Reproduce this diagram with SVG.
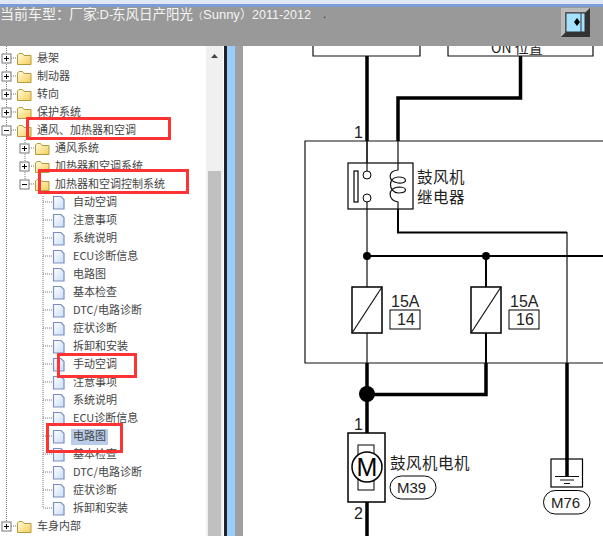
<svg xmlns="http://www.w3.org/2000/svg" width="603" height="536" viewBox="0 0 603 536">
<style>
text{font-family:"Noto Sans CJK SC","Liberation Sans",sans-serif}
.t{font-size:11px;fill:#444}
.d{font-size:15.500px;letter-spacing:.5px;fill:#222}
.a{font-family:"Liberation Sans",sans-serif;font-size:16px;fill:#222}
.c{font-family:"Liberation Sans",sans-serif;font-size:15px;fill:#222}
.w{fill:none;stroke:#111;stroke-width:1.2}
.m{fill:none;stroke:#000;stroke-width:2}
.h{fill:none;stroke:#000;stroke-width:3.5}
.r{fill:none;stroke:#f33;stroke-width:3}
.b{fill:#fff;stroke:#000;stroke-width:1.5}
.dot{fill:none;stroke:#777;stroke-width:1;stroke-dasharray:1 1}
.l{font-family:"Liberation Sans",sans-serif}
</style>
<defs>
<linearGradient id="fg" x1="0" y1="0" x2="1" y2="1"><stop offset="0" stop-color="#fffbe0"/><stop offset="1" stop-color="#f5cf55"/></linearGradient>
<linearGradient id="pg" x1="0" y1="0" x2="1" y2="1"><stop offset="0" stop-color="#ffffff"/><stop offset="1" stop-color="#c9dcf7"/></linearGradient>
<g id="folder"><path d="M0.500 3V12.500H14V3.500H7L5.500 1.500H2Z" fill="url(#fg)" stroke="#b59a3c"/></g>
<g id="page"><path d="M0.500 0.500H8L11 3.500V13H0.500Z" fill="url(#pg)" stroke="#7a8fc0" stroke-width="1.200"/></g>
<g id="plus"><rect x="0" y="0" width="9" height="9" fill="#fff" stroke="#777"/><path d="M2 4.500h5M4.500 2v5" stroke="#000"/></g>
<g id="minus"><rect x="0" y="0" width="9" height="9" fill="#fff" stroke="#777"/><path d="M2 4.500h5" stroke="#000"/></g>
</defs>
<rect width="603" height="536" fill="#fff"/>
<g id="tree">
<path class="dot" d="M6.500 46V526M25 140V184M43 196V508"/>
<path class="dot" d="M11 58h6M11 76h6M11 94h6M11 112h6M11 130h6M11 526h6M29 148h6M29 166h6M29 184h6"/>
<path class="dot" d="M43 202h10M43 220h10M43 238h10M43 256h10M43 274h10M43 292h10M43 310h10M43 328h10M43 346h10M43 364h10M43 382h10M43 400h10M43 418h10M43 436h10M43 454h10M43 472h10M43 490h10M43 508h10"/>
<use href="#plus" x="2" y="54"/><use href="#folder" x="17" y="52"/><text class="t" x="37" y="62">悬架</text>
<use href="#plus" x="2" y="72"/><use href="#folder" x="17" y="70"/><text class="t" x="37" y="80">制动器</text>
<use href="#plus" x="2" y="90"/><use href="#folder" x="17" y="88"/><text class="t" x="37" y="98">转向</text>
<use href="#plus" x="2" y="108"/><use href="#folder" x="17" y="106"/><text class="t" x="37" y="116">保护系统</text>
<use href="#minus" x="2" y="126"/><use href="#folder" x="17" y="124"/><text class="t" x="37" y="134">通风、加热器和空调</text>
<use href="#plus" x="20" y="144"/><use href="#folder" x="35" y="142"/><text class="t" x="55" y="152">通风系统</text>
<use href="#plus" x="20" y="162"/><use href="#folder" x="35" y="160"/><text class="t" x="55" y="170">加热器和空调系统</text>
<use href="#minus" x="20" y="180"/><use href="#folder" x="35" y="178"/><text class="t" x="55" y="188">加热器和空调控制系统</text>
<use href="#page" x="53" y="196"/><text class="t" x="73" y="206">自动空调</text>
<use href="#page" x="53" y="214"/><text class="t" x="73" y="224">注意事项</text>
<use href="#page" x="53" y="232"/><text class="t" x="73" y="242">系统说明</text>
<use href="#page" x="53" y="250"/><text class="t" x="73" y="260">ECU诊断信息</text>
<use href="#page" x="53" y="268"/><text class="t" x="73" y="278">电路图</text>
<use href="#page" x="53" y="286"/><text class="t" x="73" y="296">基本检查</text>
<use href="#page" x="53" y="304"/><text class="t" x="73" y="314">DTC/电路诊断</text>
<use href="#page" x="53" y="322"/><text class="t" x="73" y="332">症状诊断</text>
<use href="#page" x="53" y="340"/><text class="t" x="73" y="350">拆卸和安装</text>
<use href="#page" x="53" y="358"/><text class="t" x="73" y="368">手动空调</text>
<use href="#page" x="53" y="376"/><text class="t" x="73" y="386">注意事项</text>
<use href="#page" x="53" y="394"/><text class="t" x="73" y="404">系统说明</text>
<use href="#page" x="53" y="412"/><text class="t" x="73" y="422">ECU诊断信息</text>
<rect x="71" y="429" width="37" height="16" fill="#b9cdea"/>
<use href="#page" x="53" y="430"/><text class="t" x="73" y="440">电路图</text>
<use href="#page" x="53" y="448"/><text class="t" x="73" y="458">基本检查</text>
<use href="#page" x="53" y="466"/><text class="t" x="73" y="476">DTC/电路诊断</text>
<use href="#page" x="53" y="484"/><text class="t" x="73" y="494">症状诊断</text>
<use href="#page" x="53" y="502"/><text class="t" x="73" y="512">拆卸和安装</text>
<use href="#plus" x="2" y="522"/><use href="#folder" x="17" y="520"/><text class="t" x="37" y="530">车身内部</text>
</g>
<g id="panes">
<rect x="206" y="46" width="17" height="490" fill="#f0f0f0"/>
<rect x="208" y="171" width="13" height="365" fill="#c0c0c0"/>
<path d="M211 58h7l-3.500-4z" fill="#444"/>
<rect x="224" y="46" width="3" height="490" fill="#222"/>
<rect x="227" y="46" width="8" height="490" fill="#99ccff"/>
<rect x="235" y="46" width="8" height="490" fill="#a0a0a0"/>
</g>
<g id="connectors">
<path class="h" d="M367 56V141"/>
<path class="h" d="M520.500 56V98H398V141"/>
<path class="h" d="M367 363V536M367 394.500H486V363M567 363V476"/>
<path class="w" d="M367 141V171M398 141V163M367 202V287M367 333V363M567 232V363"/>
<path class="m" d="M398 209V232.500H567M367 256H603M486 256V287M486 333V363"/>
<circle cx="367" cy="256" r="4"/><circle cx="486" cy="256" r="4"/><circle cx="367" cy="394" r="8"/>
</g>
<g id="top-boxes">
<path class="w" d="M313 46V56H420V46M448 46V56H593V46"/>
<text x="491" y="53" style="font-size:14px" fill="#222">ON 位置</text>
</g>
<g id="module">
<path class="w" d="M603 141H305V363H603"/>
<text class="a" x="354" y="138">1</text>
</g>
<g id="relay">
<rect x="348" y="163" width="65" height="46" fill="#fff" stroke="#000" stroke-width="1.2"/>
<rect x="354" y="171" width="4" height="31" fill="#fff" stroke="#000" stroke-width="1.200"/>
<circle cx="367" cy="175" r="4" fill="#fff" stroke="#000"/><circle cx="367" cy="198" r="4" fill="#fff" stroke="#000"/>
<path class="w" d="M367 141V171M367 202V209M398 163V170C388 171 387 181 398 183C408 184 408 177 398 177C388 177 388 192 398 193C408 193 408 187 398 187C387 189 388 200 398 202V209"/>
<text class="d" x="417" y="183">鼓风机</text><text class="d" x="417" y="203">继电器</text>
</g>
<g id="fuse14">
<rect x="352" y="287" width="30" height="46" class="b"/><path class="w" d="M352 333L382 287"/>
<text class="a" x="391" y="307">15A</text><rect x="390" y="310" width="30" height="19" fill="#fff" stroke="#000"/><text class="a" x="397" y="325">14</text>
</g>
<g id="fuse16">
<rect x="471" y="287" width="30" height="46" class="b"/><path class="w" d="M471 333L501 287"/>
<text class="a" x="510" y="307">15A</text><rect x="509" y="310" width="30" height="19" fill="#fff" stroke="#000"/><text class="a" x="516" y="325">16</text>
</g>
<g id="motor">
<text class="a" x="354" y="430">1</text>
<rect x="348" y="433" width="37" height="69" fill="#fff" stroke="#000" stroke-width="1.500"/>
<rect x="358" y="445" width="16" height="45" fill="#fff" stroke="#000"/>
<circle cx="367" cy="467" r="15" fill="#fff" stroke="#000" stroke-width="1.500"/>
<text x="367" y="476" text-anchor="middle" style="font-family:'Liberation Sans',sans-serif;font-size:25px;fill:#000">M</text>
<text class="a" x="354" y="519">2</text>
<text class="d" x="390" y="469">鼓风机电机</text>
<rect x="390" y="476" width="46" height="23" rx="11.500" fill="#fff" stroke="#000"/><text class="c" x="397" y="493">M39</text>
</g>
<g id="ground">
<rect x="551" y="459" width="31.500" height="28" fill="#fff" stroke="#000" stroke-width="1.200"/>
<path class="h" d="M567 459V476"/><path class="w" d="M555 476.500H579M560 480H574M564 483.500H570"/>
<rect x="543.500" y="490.500" width="46.500" height="23.500" rx="11.700" fill="#fff" stroke="#000"/><text class="c" x="551" y="508">M76</text>
</g>
<g id="header">
<rect width="603" height="46" fill="#999"/>
<rect width="603" height="4" fill="#dfe6f5"/><rect y="4" width="603" height="3" fill="#7f9bd6"/>
<text y="19" style="font-size:14px" fill="#f4f4f4"><tspan x="0">当前车型</tspan><tspan x="56">：</tspan><tspan x="69">厂家</tspan><tspan class="l" x="96" style="font-size:13px">:D-</tspan><tspan x="112" style="font-size:13.500px">东风日产阳光</tspan><tspan x="193.500" style="font-size:9px">（</tspan><tspan class="l" x="203" style="font-size:13px">Sunny</tspan><tspan x="240" style="font-size:12px">）</tspan><tspan class="l" x="252" style="font-size:12.500px">2011-2012</tspan></text>
<text x="323" y="18" style="font-size:11px" fill="#5a3a1a">.</text>
<rect x="561" y="8" width="29" height="29" fill="#777"/><path d="M561 37V8H590L586 12H565V33Z" fill="#bbb"/><path d="M590 8V37H561Z" fill="#222" opacity=".8"/>
<rect x="566" y="13" width="19" height="19" fill="#a6e2ff" stroke="#333"/><path d="M581 13V32" stroke="#333"/><path d="M577 18l3 4-3 4-3-4z" fill="#000"/>
</g>
<g id="highlights">
<rect class="r" x="27.500" y="118.500" width="142" height="20"/>
<rect class="r" x="39.500" y="170.500" width="148" height="22"/>
<rect class="r" x="58.500" y="354.500" width="77" height="22"/>
<rect class="r" x="47.500" y="424.500" width="74" height="27"/>
</g>
</svg>
